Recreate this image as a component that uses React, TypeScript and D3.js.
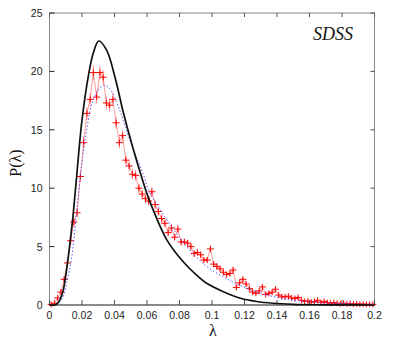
import React from 'react';
import * as d3 from 'd3';

// binned SDSS histogram (bin centres)
const binLambda = [
  0.001, 0.003, 0.005, 0.007, 0.009, 0.011, 0.013, 0.015, 0.017, 0.019,
  0.021, 0.023, 0.025, 0.027, 0.029, 0.031, 0.033, 0.035, 0.037, 0.039,
  0.041, 0.043, 0.045, 0.047, 0.049, 0.051, 0.053, 0.055, 0.057, 0.059,
  0.061, 0.063, 0.065, 0.067, 0.069, 0.071, 0.073, 0.075, 0.077, 0.079,
  0.081, 0.083, 0.085, 0.087, 0.089, 0.091, 0.093, 0.095, 0.097, 0.099,
  0.101, 0.103, 0.105, 0.107, 0.109, 0.111, 0.113, 0.115, 0.117, 0.119,
  0.121, 0.123, 0.125, 0.127, 0.129, 0.131, 0.133, 0.135, 0.137, 0.139,
  0.141, 0.143, 0.145, 0.147, 0.149, 0.151, 0.153, 0.155, 0.157, 0.159,
  0.161, 0.163, 0.165, 0.167, 0.169, 0.171, 0.173, 0.175, 0.177, 0.179,
  0.181, 0.183, 0.185, 0.187, 0.189, 0.191, 0.193, 0.195, 0.197, 0.199,
];
const binP = [
  0.05, 0.15, 0.6, 1.1, 2.2, 3.6, 5.5, 7.1, 7.9, 11.0,
  13.9, 16.4, 17.6, 19.9, 17.8, 19.9, 19.5, 17.3, 17.1, 17.6,
  15.6, 13.9, 14.5, 12.4, 11.9, 11.2, 11.1, 10.0, 9.5, 9.1,
  8.9, 9.7, 8.6, 8.0, 7.4, 7.0, 6.2, 6.6, 5.8, 6.5,
  5.4, 5.4, 5.3, 5.0, 4.4, 4.5, 4.3, 3.85, 3.85, 4.8,
  3.5, 3.3, 3.1, 2.8, 2.6, 2.7, 3.0, 1.5, 1.9, 2.2,
  1.8, 1.4, 1.1, 1.0, 1.2, 1.55, 0.9, 1.0, 1.1, 1.35,
  0.85, 0.7, 0.7, 0.75, 0.6, 0.55, 0.65, 0.4, 0.3, 0.35,
  0.25, 0.3, 0.4, 0.2, 0.3, 0.2, 0.15, 0.2, 0.15, 0.1,
  0.15, 0.1, 0.12, 0.08, 0.1, 0.06, 0.08, 0.05, 0.06, 0.05,
];
const binErr = [
  0.05, 0.08, 0.15, 0.2, 0.25, 0.3, 0.35, 0.4, 0.4, 0.45,
  0.5, 0.55, 0.55, 0.6, 0.55, 0.6, 0.6, 0.55, 0.55, 0.55,
  0.5, 0.5, 0.5, 0.45, 0.45, 0.45, 0.45, 0.4, 0.4, 0.4,
  0.4, 0.4, 0.4, 0.35, 0.35, 0.35, 0.35, 0.35, 0.3, 0.35,
  0.3, 0.3, 0.3, 0.3, 0.3, 0.3, 0.3, 0.25, 0.25, 0.3,
  0.25, 0.25, 0.25, 0.25, 0.22, 0.22, 0.25, 0.2, 0.2, 0.22,
  0.2, 0.18, 0.15, 0.15, 0.16, 0.18, 0.14, 0.15, 0.15, 0.16,
  0.13, 0.12, 0.12, 0.12, 0.11, 0.11, 0.12, 0.1, 0.09, 0.09,
  0.08, 0.09, 0.1, 0.07, 0.08, 0.07, 0.06, 0.07, 0.06, 0.05,
  0.06, 0.05, 0.05, 0.05, 0.05, 0.04, 0.05, 0.04, 0.04, 0.04,
];

// model curve (black, solid)
const modelLambda = [0, 0.003, 0.005, 0.0065, 0.0085, 0.0106, 0.0126, 0.0146, 0.0167, 0.0198, 0.0239, 0.027, 0.0303, 0.0352, 0.0403, 0.0454, 0.0506, 0.0557, 0.0598, 0.0639, 0.0721, 0.0823, 0.0926, 0.0967, 0.107, 0.117, 0.1275, 0.1375, 0.15, 0.165, 0.18, 0.2];
const modelP = [0, 0, 0.15, 0.45, 1.3, 3.1, 5.3, 7.8, 11.0, 15.6, 19.6, 21.6, 22.6, 21.8, 19.5, 16.5, 13.8, 11.4, 9.6, 8.1, 5.6, 3.7, 2.3, 1.86, 1.14, 0.6, 0.3, 0.15, 0.06, 0.02, 0.01, 0];

// fit curve (blue, dotted)
const fitLambda = [0, 0.004, 0.008, 0.0106, 0.0137, 0.0167, 0.0198, 0.0229, 0.027, 0.0331, 0.0372, 0.0423, 0.0454, 0.0516, 0.0577, 0.0608, 0.066, 0.0762, 0.0844, 0.0926, 0.0967, 0.107, 0.117, 0.1275, 0.1377, 0.148, 0.158, 0.168, 0.18, 0.2];
const fitP = [0, 0.05, 0.6, 1.9, 4.1, 8.0, 12.0, 15.0, 17.6, 18.8, 18.5, 17.0, 15.8, 13.3, 11.2, 9.9, 8.6, 6.5, 5.0, 3.8, 3.3, 2.4, 1.7, 1.14, 0.72, 0.45, 0.3, 0.2, 0.12, 0.07];

const xTicks = [0, 0.02, 0.04, 0.06, 0.08, 0.1, 0.12, 0.14, 0.16, 0.18, 0.2];
const xTickLabels = ['0', '0.02', '0.04', '0.06', '0.08', '0.1', '0.12', '0.14', '0.16', '0.18', '0.2'];
const yTicks = [0, 5, 10, 15, 20, 25];

const W = 395;
const H = 338;

export default function App() {
  const x = d3.scaleLinear().domain([0, 0.2]).range([49.5, 374.5]);
  const y = d3.scaleLinear().domain([0, 25]).range([305, 13]);
  const [x0, x1] = x.range();
  const [y0, y1] = y.range();

  const modelPath = d3.line<number>()
    .x((_, i) => x(modelLambda[i]))
    .y((d) => y(d))
    .curve(d3.curveCatmullRom.alpha(0.5))(modelP);

  const fitPath = d3.line<number>()
    .x((_, i) => x(fitLambda[i]))
    .y((d) => y(d))
    .curve(d3.curveCatmullRom.alpha(0.5))(fitP);

  const dataPath = d3.line<number>()
    .x((_, i) => x(binLambda[i]))
    .y((d) => y(d))(binP);

  const axisColor = '#8a8a8a';
  const font = 'Liberation Sans, Arial, sans-serif';
  const serif = 'Liberation Serif, Times New Roman, serif';

  return (
    <svg width={W} height={H} style={{ position: 'absolute', left: 0, top: 0, background: '#fff' }}>
      {/* frame */}
      <rect x={x0} y={y1} width={x1 - x0} height={y0 - y1} fill="none" stroke={axisColor} strokeWidth={1} />
      <line x1={x0} x2={x1} y1={y0} y2={y0} stroke={axisColor} strokeWidth={2} />

      {/* x ticks */}
      {xTicks.map((t, i) => (
        <g key={'xt' + i}>
          <line x1={x(t)} x2={x(t)} y1={y0} y2={y0 - 5} stroke="#555" strokeWidth={1} />
          <line x1={x(t)} x2={x(t)} y1={y1} y2={y1 + 4} stroke="#555" strokeWidth={1} />
          <text x={x(t)} y={y0 + 14} textAnchor="middle" fontFamily={font} fontSize={10.5} fill="#222">
            {xTickLabels[i]}
          </text>
        </g>
      ))}

      {/* y ticks */}
      {yTicks.map((t, i) => (
        <g key={'yt' + i}>
          <line x1={x0} x2={x0 + 5} y1={y(t)} y2={y(t)} stroke="#222" strokeWidth={1} />
          <line x1={x1} x2={x1 - 4} y1={y(t)} y2={y(t)} stroke="#555" strokeWidth={1} />
          <text x={x0 - 7} y={y(t) + 4} textAnchor="end" fontFamily={font} fontSize={10.5} fill="#222">
            {t}
          </text>
        </g>
      ))}

      {/* data: connecting line, error bars, markers */}
      <path d={dataPath ?? ''} fill="none" stroke="#ff5a5a" strokeOpacity={0.6} strokeWidth={1} />
      {binP.map((p, i) => {
        const cx = x(binLambda[i]);
        const cy = y(p);
        return (
          <g key={'pt' + i}>
            <line x1={cx} x2={cx} y1={y(p + binErr[i])} y2={y(Math.max(0, p - binErr[i]))} stroke="#ff4040" strokeOpacity={0.6} strokeWidth={1} />
            <line x1={cx - 3.5} x2={cx + 3.5} y1={cy} y2={cy} stroke="#ff0000" strokeWidth={1} />
            <line x1={cx} x2={cx} y1={cy - 3} y2={cy + 3} stroke="#ff0000" strokeWidth={1} />
          </g>
        );
      })}

      {/* fit curve */}
      <path d={fitPath ?? ''} fill="none" stroke="#5a5aff" strokeWidth={1} strokeDasharray="1.5 2" />

      {/* model curve */}
      <path d={modelPath ?? ''} fill="none" stroke="#111" strokeWidth={1.7} />

      {/* labels */}
      <text x={353} y={40} textAnchor="end" fontFamily={serif} fontStyle="italic" fontSize={18} fill="#111">
        SDSS
      </text>
      <text
        transform={`translate(21, ${(y0 + y1) / 2 + 4}) rotate(-90)`}
        textAnchor="middle"
        fontFamily={serif}
        fontSize={16}
        fill="#111"
      >
        P(λ)
      </text>
      <text x={(x0 + x1) / 2 + 1} y={336} textAnchor="middle" fontFamily={serif} fontSize={16} fill="#111">
        λ
      </text>
    </svg>
  );
}
